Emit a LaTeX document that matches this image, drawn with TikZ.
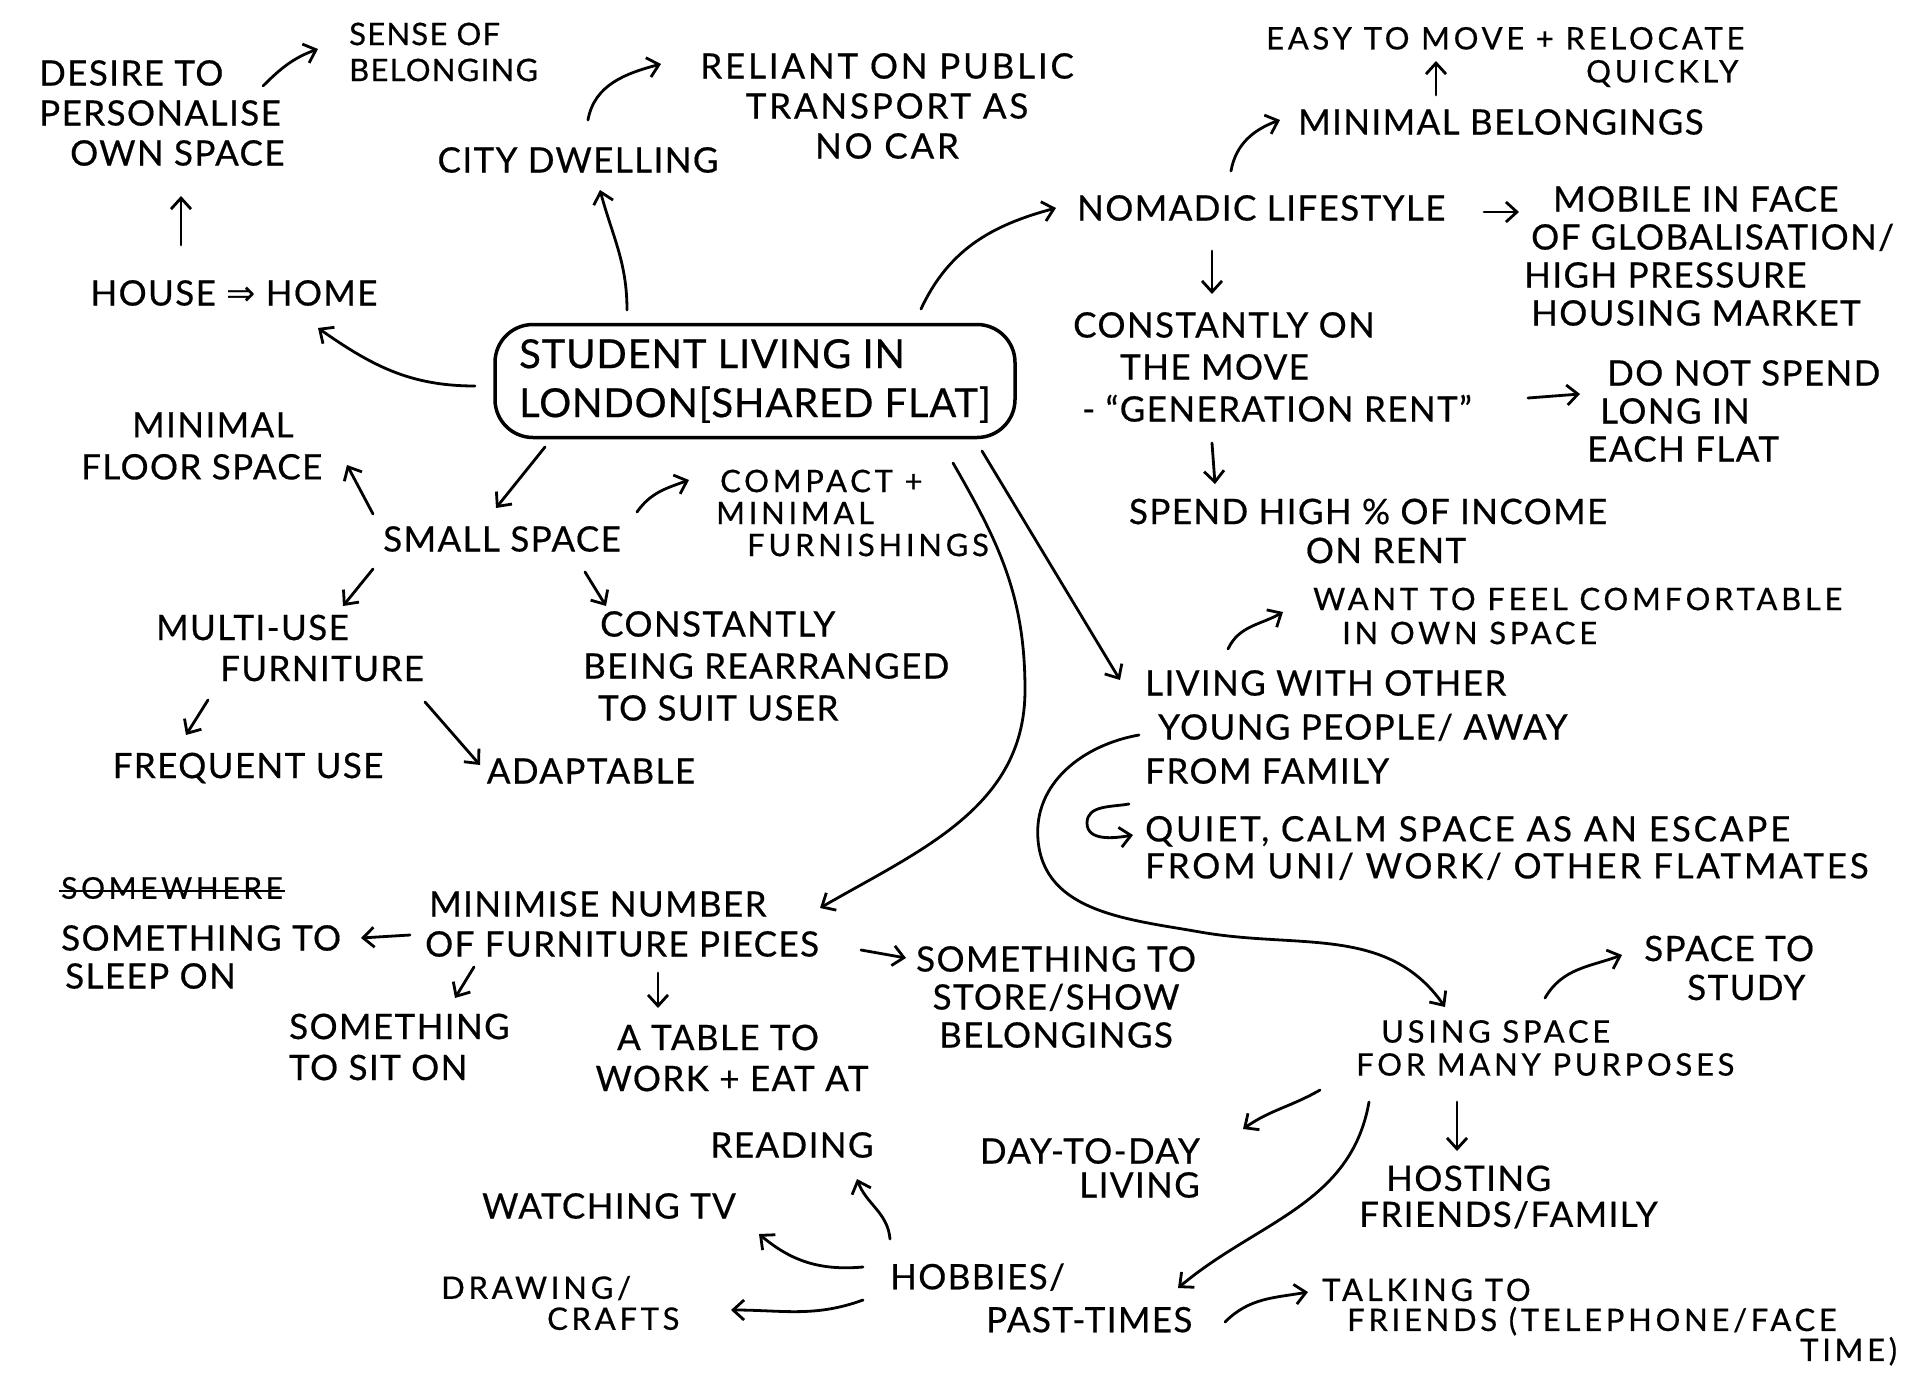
\documentclass[tikz,border=0pt]{standalone}
\usepackage{fontspec}
\setmainfont{Lato}[LetterSpace=4, FakeBold=0.5]
\newfontfamily\bigfont{Lato}[LetterSpace=2, FakeBold=0.5]
\newfontfamily\symfont{DejaVu Sans}
\usetikzlibrary{arrows.meta,calc}
\begin{document}
\begin{tikzpicture}[x=1pt,y=-1pt,
  fs/.style={font=\fontsize{35}{#1}\selectfont},
  sm/.style={font=\fontsize{31}{#1}\selectfont\addfontfeature{LetterSpace=12}},
  wide/.style={font=\fontsize{35}{#1}\selectfont\addfontfeature{LetterSpace=8}},
  txt/.style={fs=40, inner sep=0pt, align=left, anchor=west},
  ctxt/.style={fs=40, inner sep=0pt, align=center, anchor=center},
  arr/.style={line width=2.8pt, line cap=round, line join=round, -{Straight Barb[length=11pt,width=20pt,line width=2.8pt]}},
  hub/.style={draw, line width=3.5pt, rounded corners=38pt, minimum width=520pt, minimum height=113pt, align=left, font=\bigfont\fontsize{40}{49}\selectfont, inner sep=0pt}]
\fill[white] (0,0) rectangle (1920,1378);
\useasboundingbox (0,0) rectangle (1920,1378);

% ---------- nodes ----------
\node[hub] (hub) at (755,381) {STUDENT LIVING IN\\LONDON[SHARED FLAT]};

\node[txt] (desire) at (39,113) {DESIRE TO\\PERSONALISE\\\hspace*{31pt}OWN SPACE};
\node[txt, font=\fontsize{31}{36}\selectfont] (sense) at (349,52) {SENSE OF\\BELONGING};
\node[ctxt] (city) at (578,160) {CITY DWELLING};
\node[ctxt, wide=40] (reliant) at (887,106) {RELIANT ON PUBLIC\\TRANSPORT AS\\NO CAR};
\node[ctxt] (house) at (234,293) {HOUSE {\symfont ⇒} HOME};

\node[txt] (nomadic) at (1077,208) {NOMADIC LIFESTYLE};
\node[txt] (minbel) at (1298,122) {MINIMAL BELONGINGS};
\node[txt, sm=33] (easy) at (1266,57) {EASY TO MOVE + RELOCATE\\\hspace*{320pt}QUICKLY};
\node[txt, fs=38] (mobile) at (1524,256) {\hspace*{29pt}MOBILE IN FACE\\\hspace*{7pt}OF GLOBALISATION/\\HIGH PRESSURE\\\hspace*{7pt}HOUSING MARKET};
\node[txt, fs=42] (constantly) at (1073,367) {CONSTANTLY ON\\\hspace*{47pt}THE MOVE\\\hspace*{9pt}- ``GENERATION RENT''};
\node[txt, fs=38] (donot) at (1587,411) {\hspace*{20pt}DO NOT SPEND\\\hspace*{13pt}LONG IN\\EACH FLAT};
\node[ctxt, fs=39] (spend) at (1368,531) {SPEND HIGH \% OF INCOME\\\hspace*{36pt}ON RENT};

\node[txt, fs=44] (living) at (1145,727) {LIVING WITH OTHER\\\hspace*{13pt}YOUNG PEOPLE/ AWAY\\FROM FAMILY};
\node[txt, sm=34] (want) at (1313,616) {WANT TO FEEL COMFORTABLE\\\hspace*{29pt}IN OWN SPACE};
\node[txt, wide=37] (quiet) at (1145,848) {QUIET, CALM SPACE AS AN ESCAPE\\FROM UNI/ WORK/ OTHER FLATMATES};

\node[txt, sm=33] (using) at (1356,1048) {\hspace*{25pt}USING SPACE\\FOR MANY PURPOSES};
\node[txt, fs=39] (study) at (1644,968) {SPACE TO\\\hspace*{43pt}STUDY};
\node[txt, fs=36] (hosting) at (1359,1197) {\hspace*{27pt}HOSTING\\FRIENDS/FAMILY};
\node[txt, fs=34, anchor=east, align=right] (daytoday) at (1200,1168) {DAY-TO-DAY\\LIVING};
\node[txt, fs=43] (hobbies) at (890,1298) {HOBBIES/\\\hspace*{96pt}PAST-TIMES};
\node[txt, sm=30] (talking) at (1322,1322) {TALKING TO\\\hspace*{25pt}FRIENDS (TELEPHONE/FACE\\\hspace*{478pt}TIME)};
\node[ctxt] (reading) at (792,1145) {READING};
\node[ctxt] (watching) at (609,1206) {WATCHING TV};
\node[txt, sm=31] (drawing) at (441,1303) {DRAWING/\\\hspace*{106pt}CRAFTS};

\node[txt, fs=42] (minfloor) at (81,446) {\hspace*{51pt}MINIMAL\\FLOOR SPACE};
\node[ctxt] (small) at (502,539) {SMALL SPACE};
\node[txt, sm=32] (compact) at (716,513) {\hspace*{4pt}COMPACT +\\MINIMAL\\\hspace*{31pt}FURNISHINGS};
\node[txt, fs=41] (multi) at (156,648) {MULTI-USE\\\hspace*{64pt}FURNITURE};
\node[txt, fs=42] (rearr) at (583,666) {\hspace*{17pt}CONSTANTLY\\BEING REARRANGED\\\hspace*{15pt}TO SUIT USER};
\node[ctxt] (frequent) at (248,768) {FREQUENT USE};
\node[ctxt] (adaptable) at (591,771) {ADAPTABLE};

\node[txt] (minimise) at (425,924) {\hspace*{4pt}MINIMISE NUMBER\\OF FURNITURE PIECES};
\node[txt, font=\fontsize{30}{34}\selectfont\addfontfeature{LetterSpace=12}] (somewhere) at (61,888) {SOMEWHERE};
\draw[line width=2.5pt] ($(somewhere.west)+(-2,3)$) -- ($(somewhere.east)+(2,3)$);
\node[txt, fs=38] (sleep) at (61,957) {SOMETHING TO\\\hspace*{4pt}SLEEP ON};
\node[txt, fs=41] (sit) at (289,1047) {SOMETHING\\TO SIT ON};
\node[ctxt, fs=41] (table) at (718,1058) {A TABLE TO\\\hspace*{28pt}WORK + EAT AT};
\node[ctxt, fs=38] (store) at (1056,997) {SOMETHING TO\\STORE/SHOW\\BELONGINGS};

% ---------- connectors ----------
\draw[arr] ($(desire.west)+(224,-27)$) to[out=45,in=200] ($(sense.west)+(-31,-3)$);
\draw[arr] ($(city)+(10,-40)$) to[out=80,in=195] ($(reliant)+(-226,-42)$);
\draw[arr] ($(hub)+(-128,-71)$) to[out=90,in=-75] ($(city)+(22,30)$);
\draw[arr] ($(hub)+(-280,5)$) to[out=180,in=-35] ($(house)+(84,35)$);
\draw[arr] ($(house)+(-53,-48)$) -- ($(desire.west)+(142,83)$);
\draw[arr] ($(hub)+(166,-72)$) to[out=65,in=195] ($(nomadic.west)+(-21,0)$);
\draw[arr] ($(nomadic.west)+(154,-37)$) to[out=80,in=200] ($(minbel.west)+(-18,-2)$);
\draw[arr] ($(minbel.west)+(138,-27)$) -- ($(easy.west)+(170,4)$);
\draw[arr] ($(nomadic.west)+(407,4)$) -- ($(mobile.west)+(-5,-44)$);
\draw[arr] ($(nomadic.west)+(135,43)$) -- ($(constantly.west)+(139,-73)$);
\draw[arr] ($(constantly.west)+(455,31)$) -- ($(donot.west)+(-7,-17)$);
\draw[arr] ($(constantly.west)+(139,76)$) -- ($(spend)+(-153,-47)$);
\draw[arr] ($(hub)+(227,70)$) -- ($(living.west)+(-25,-47)$);
\draw[arr] ($(living.west)+(83,-78)$) to[out=65,in=210] ($(want.west)+(-30,-4)$);
\draw[arr] ($(living.west)+(-16,77)$) to[out=190,in=90] ($(living.west)+(-58,96)$) to[out=-90,in=190] ($(quiet.west)+(-12,-13)$);
\draw[arr] ($(living.west)+(-6,8)$) to[out=190,in=95] ($(living.west)+(-107,113)$) to[out=-85,in=170] ($(using.west)+(-156,-116)$) to[out=-10,in=125] ($(using.west)+(89,-41)$);
\draw[arr] ($(using.west)+(189,-50)$) to[out=60,in=200] ($(study.west)+(-22,-13)$);
\draw[arr] ($(using.west)+(101,54)$) -- ($(hosting.west)+(98,-46)$);
\draw[arr] ($(using.west)+(-36,42)$) to[out=210,in=35] ($(daytoday.east)+(43,-39)$);
\draw[arr] ($(using.west)+(13,54)$) to[out=-100,in=40] ($(hobbies.west)+(288,-10)$);
\draw[arr] ($(hobbies.west)+(335,24)$) to[out=45,in=190] ($(talking.west)+(-14,-30)$);
\draw[arr] ($(hobbies.west)+(0,-59)$) to[out=95,in=-70] ($(reading)+(65,34)$);
\draw[arr] ($(hobbies.west)+(-27,-31)$) to[out=185,in=-40] ($(watching)+(150,28)$);
\draw[arr] ($(hobbies.west)+(-27,2)$) to[out=200,in=0] ($(drawing.west)+(290,7)$);
\draw[arr] ($(hub)+(-210,66)$) -- ($(small)+(-6,-31)$);
\draw[arr] ($(small)+(-129,-25)$) -- ($(minfloor.west)+(266,19)$);
\draw[arr] ($(small)+(135,-27)$) to[out=55,in=200] ($(compact.west)+(-27,-33)$);
\draw[arr] ($(small)+(-129,30)$) -- ($(multi.west)+(187,-42)$);
\draw[arr] ($(small)+(83,33)$) -- ($(rearr.west)+(23,-60)$);
\draw[arr] ($(multi.west)+(52,52)$) -- ($(frequent)+(-62,-33)$);
\draw[arr] ($(multi.west)+(269,54)$) -- ($(adaptable)+(-111,-6)$);
\draw[arr] ($(hub)+(198,82)$) to[out=-60,in=90] ($(hub)+(270,309)$) to[out=-90,in=30] ($(minimise.west)+(395,-16)$);
\draw[arr] ($(minimise.west)+(-15,11)$) -- ($(sleep.west)+(300,-19)$);
\draw[arr] ($(minimise.west)+(49,43)$) -- ($(sit.west)+(166,-49)$);
\draw[arr] ($(minimise.west)+(233,49)$) -- ($(table)+(-60,-50)$);
\draw[arr] ($(minimise.west)+(436,26)$) -- ($(store)+(-150,-39)$);
\end{tikzpicture}
\end{document}
